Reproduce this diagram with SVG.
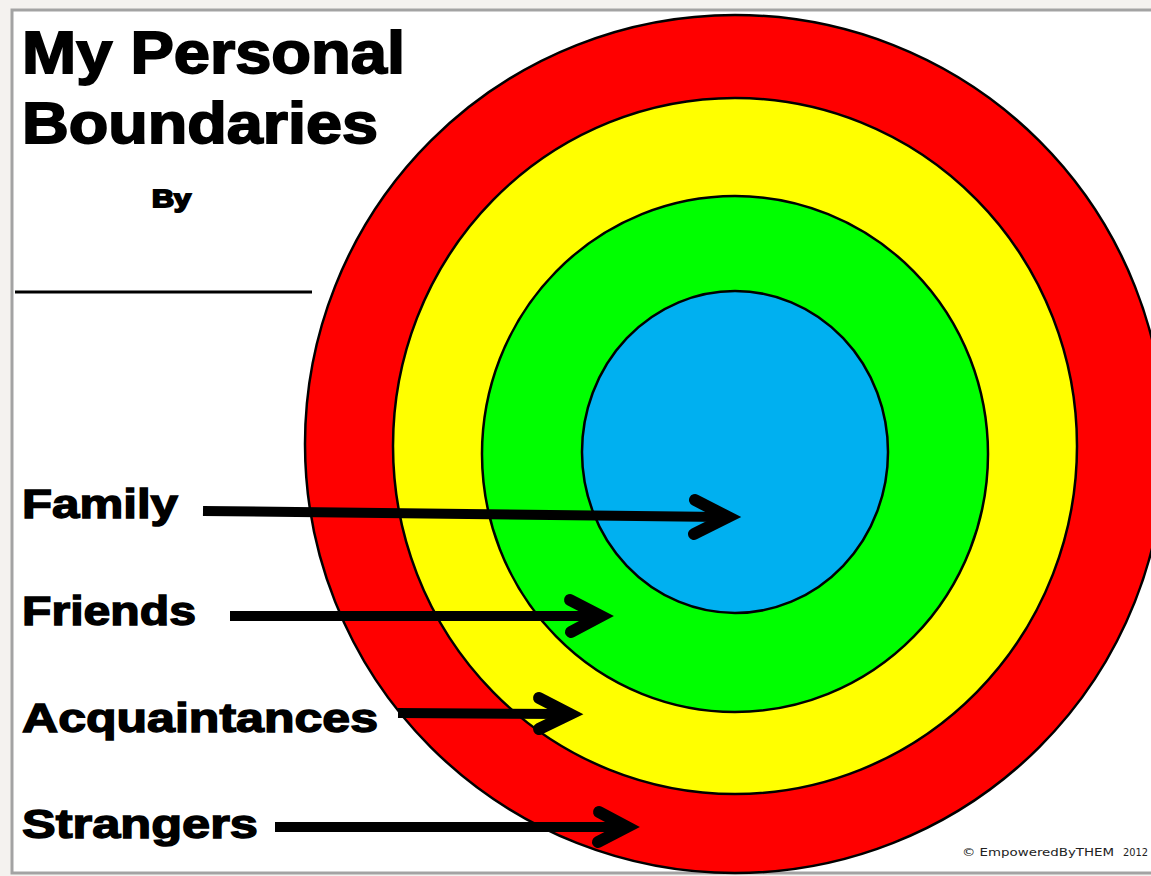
<svg xmlns="http://www.w3.org/2000/svg" width="1151" height="876" viewBox="0 0 1151 876">
  <style>
    .ring { stroke: #000; stroke-width: 2.5; }
    .big { font-family: "Liberation Sans", Arial, sans-serif; font-weight: bold; fill: #000; stroke: #000; stroke-width: 1.8; }
    .lbl { font-family: "Liberation Sans", Arial, sans-serif; font-weight: bold; fill: #000; stroke: #000; stroke-width: 1.4; font-size: 41px; }
    .shaft { stroke: #000; stroke-width: 10; stroke-linecap: butt; fill: none; }
    .head { stroke: #000; stroke-width: 12; stroke-linecap: round; stroke-linejoin: miter; fill: none; }
    .copy { font-family: "DejaVu Sans Condensed", "Liberation Sans", sans-serif; font-size: 11px; fill: #222; }
  </style>
  <rect x="0" y="0" width="1151" height="876" fill="#f4f2ef"/>
  <rect x="12" y="10" width="1150" height="863" fill="#ffffff" stroke="#a3a3a3" stroke-width="3"/>

  <g id="ring-strangers"><ellipse class="ring" cx="735" cy="444" rx="430" ry="429" fill="#ff0000"/></g>
  <g id="ring-acquaintances"><ellipse class="ring" cx="735" cy="446" rx="342" ry="348" fill="#ffff00"/></g>
  <g id="ring-friends"><ellipse class="ring" cx="735" cy="454" rx="253" ry="258" fill="#00ff00"/></g>
  <g id="ring-family"><ellipse class="ring" cx="735" cy="452" rx="153" ry="161" fill="#00b0f0"/></g>

  <g id="title">
    <text class="big" x="22" y="73" font-size="60" textLength="383" lengthAdjust="spacingAndGlyphs">My Personal</text>
    <text class="big" x="22" y="143" font-size="58" textLength="356" lengthAdjust="spacingAndGlyphs">Boundaries</text>
    <text class="big" x="152" y="207" font-size="23" stroke-width="0.6" textLength="39" lengthAdjust="spacingAndGlyphs">By</text>
    <line x1="15" y1="292" x2="312" y2="292" stroke="#000" stroke-width="3"/>
  </g>

  <g id="label-family"><text class="lbl" x="22" y="518" textLength="156" lengthAdjust="spacingAndGlyphs">Family</text></g>
  <g id="label-friends"><text class="lbl" x="22" y="625" textLength="174" lengthAdjust="spacingAndGlyphs">Friends</text></g>
  <g id="label-acquaintances"><text class="lbl" x="22" y="732" textLength="356" lengthAdjust="spacingAndGlyphs">Acquaintances</text></g>
  <g id="label-strangers"><text class="lbl" x="22" y="838" textLength="236" lengthAdjust="spacingAndGlyphs">Strangers</text></g>

  <g id="connectors">
    <path class="shaft" d="M203 511 L722 517"/>
    <path class="head" d="M695 500 L728 517 L694 534"/>
    <path class="shaft" d="M230 616 L596 616"/>
    <path class="head" d="M570 600 L601 616 L571 632"/>
    <path class="shaft" d="M398 713 L565 714"/>
    <path class="head" d="M539 698 L570 714 L539 729"/>
    <path class="shaft" d="M275 827 L622 827"/>
    <path class="head" d="M599 812 L627 827 L598 842"/>
  </g>

  <g id="copyright">
    <text class="copy" x="962" y="856" textLength="152" lengthAdjust="spacingAndGlyphs">© EmpoweredByTHEM</text>
    <text class="copy" x="1123" y="856" textLength="25" lengthAdjust="spacingAndGlyphs">2012</text>
  </g>
</svg>
